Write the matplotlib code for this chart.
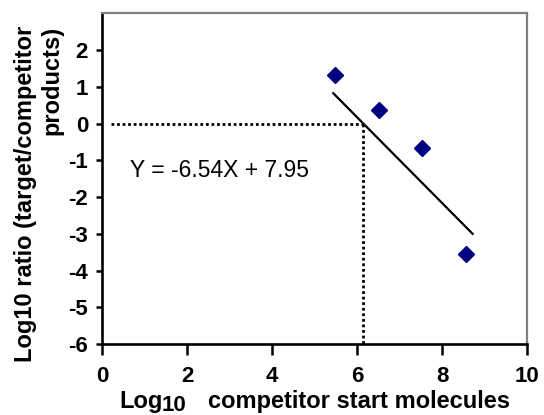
import matplotlib
matplotlib.use("Agg")
import matplotlib.pyplot as plt

plt.rcParams['font.family'] = ['Liberation Sans', 'DejaVu Sans']

# measured points (log10 competitor start molecules, log10 ratio)
comp_log = [5.48, 6.52, 7.54, 8.56]
ratio_log = [1.33, 0.38, -0.65, -3.55]

# drawn trend line end points
fit_x = [5.44, 8.72]
fit_y = [0.83, -3.0]

# equivalence point (ratio = 0)
equiv_x = 6.13
equation = "Y = -6.54X + 7.95"

xticks = [0, 2, 4, 6, 8, 10]
yticks = [2, 1, 0, -1, -2, -3, -4, -5, -6]

fig = plt.figure(figsize=(5.44, 4.15), dpi=100)
ax = fig.add_axes([0.1875, 0.1711, 0.7813, 0.7964])

ax.plot(fit_x, fit_y, color='black', lw=1.6)
ax.plot(comp_log, ratio_log, linestyle='none', marker='D', markersize=8.5,
        color='#000080', markeredgecolor='#000080')
ax.plot([0.2, equiv_x], [0, 0], color='black', lw=2, linestyle=(0, (1, 1)))
ax.plot([equiv_x, equiv_x], [0, -6], color='black', lw=2, linestyle=(0, (1, 1)))

ax.text(0.67, -1.27, equation, fontsize=16.5, va='center', ha='left')

ax.set_xlim(0, 10)
ax.set_ylim(-6, 3)
ax.set_xticks(xticks)
ax.set_yticks(yticks)
ax.set_xticklabels([str(v) for v in xticks], fontsize=16, fontweight='bold')
ax.set_yticklabels([str(v) for v in yticks], fontsize=16, fontweight='bold')
ax.tick_params(axis='x', direction='out', length=8, width=1.8, pad=8)
ax.tick_params(axis='y', direction='out', length=4, width=1.8, pad=6)

for side in ['left', 'bottom']:
    ax.spines[side].set_linewidth(1.9)
    ax.spines[side].set_color('black')
for side in ['top', 'right']:
    ax.spines[side].set_linewidth(1.6)
    ax.spines[side].set_color('#808080')

# axis titles
fig.text(38.5 / 544, 1 - 193.5 / 415, "Log10 ratio (target/competitor\nproducts)",
         rotation=90, ha='center', va='center', multialignment='right',
         fontsize=17, fontweight='bold')
fig.text(119 / 544, 7 / 415, "Log", fontsize=17, fontweight='bold', va='baseline')
fig.text(162 / 544, 4 / 415, "10", fontsize=16, fontweight='bold', va='baseline')
fig.text(208 / 544, 7 / 415, "competitor start molecules", fontsize=17,
         fontweight='bold', va='baseline')

fig.savefig("out.png", dpi=100)
